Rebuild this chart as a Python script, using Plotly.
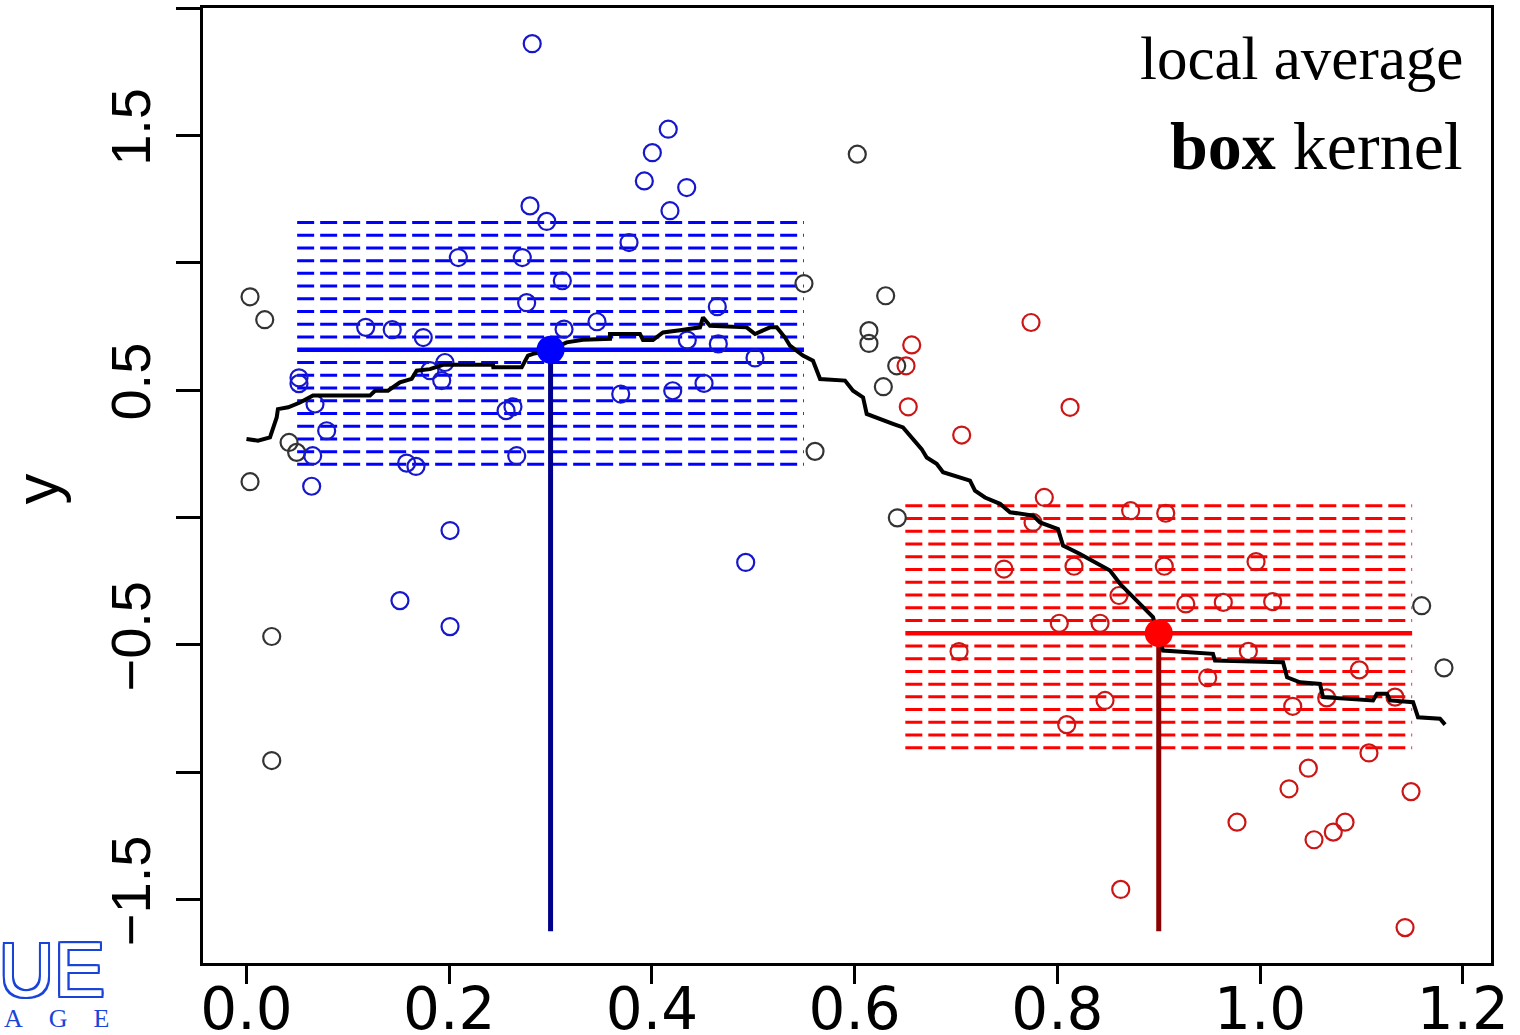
import plotly.graph_objects as go

# ---------------- data ----------------
gray_x = [0.0035, 0.018, 0.0035, 0.042, 0.0495, 0.0249, 0.0249, 0.6026, 0.6306, 0.55,
          0.6141, 0.6141, 0.6415, 0.6283, 0.5609, 0.6421, 1.1594, 1.1814]
gray_y = [0.866, 0.776, 0.140, 0.294, 0.255, -0.468, -0.955, 1.426, 0.870, 0.918,
          0.733, 0.683, 0.595, 0.513, 0.259, -0.002, -0.347, -0.591]

blue_x = [0.2819, 0.2797, 0.2962, 0.209, 0.2721, 0.3116, 0.2764, 0.4161, 0.4004, 0.3925,
          0.4343, 0.4178, 0.3774, 0.1176, 0.1438, 0.1744, 0.0518, 0.0518, 0.0676, 0.0791,
          0.0653, 0.0643, 0.158, 0.1672, 0.1926, 0.1958, 0.181, 0.2561, 0.2629, 0.2666,
          0.2008, 0.1514, 0.2008, 0.3133, 0.3458, 0.3692, 0.4205, 0.4514, 0.4349, 0.4655,
          0.5017, 0.4645, 0.4925]
blue_y = [1.860, 1.223, 1.162, 1.020, 1.020, 0.929, 0.843, 1.524, 1.432, 1.321,
          1.295, 1.204, 1.079, 0.746, 0.737, 0.706, 0.548, 0.525, 0.445, 0.340,
          0.242, 0.122, 0.213, 0.200, 0.537, 0.608, 0.576, 0.419, 0.434, 0.242,
          -0.052, -0.327, -0.429, 0.739, 0.768, 0.484, 0.497, 0.526, 0.696, 0.681,
          0.626, 0.827, -0.177]

red_x = [0.774, 0.8125, 0.6563, 0.6507, 0.6529, 0.7056, 0.7871, 0.776, 0.8723, 0.9069,
         0.7473, 0.8164, 0.9055, 0.996, 0.8608, 0.9267, 0.9637, 1.0124, 0.8019, 0.8421,
         0.703, 0.9884, 0.9483, 1.0979, 0.847, 1.0322, 1.0657, 1.1331, 0.8092, 1.1074,
         1.0476, 1.0285, 1.1489, 0.9772, 1.0838, 1.0722, 1.0532, 0.8625, 1.143]
red_y = [0.765, 0.432, 0.677, 0.595, 0.434, 0.323, 0.078, -0.020, 0.026, 0.016,
         -0.203, -0.192, -0.192, -0.174, -0.307, -0.340, -0.334, -0.331, -0.416, -0.416,
         -0.527, -0.526, -0.630, -0.599, -0.719, -0.742, -0.709, -0.706, -0.814, -0.925,
         -0.985, -1.066, -1.077, -1.197, -1.197, -1.236, -1.266, -1.461, -1.611]

# local average (box kernel) curve
curve_x = [0.0, 0.0113, 0.0232, 0.0298, 0.031, 0.0412, 0.0528, 0.0656, 0.1218, 0.1268,
           0.1396, 0.1514, 0.163, 0.1679, 0.181, 0.1939, 0.2432, 0.2435, 0.2715, 0.2777,
           0.2827, 0.2975, 0.3159, 0.332, 0.3586, 0.3586, 0.3882, 0.3912, 0.401, 0.4109,
           0.4277, 0.4474, 0.4504, 0.4573, 0.4935, 0.5017, 0.5165, 0.5231, 0.5313, 0.5362,
           0.549, 0.5589, 0.5659, 0.5905, 0.5984, 0.6083, 0.6119, 0.628, 0.6378, 0.6477,
           0.6563, 0.6661, 0.6711, 0.6809, 0.6872, 0.699, 0.7138, 0.7187, 0.7286, 0.7434,
           0.7533, 0.776, 0.7829, 0.8006, 0.8056, 0.8223, 0.8391, 0.8519, 0.8618, 0.8785,
           0.8943, 0.9042, 0.9535, 0.9555, 1.0226, 1.0266, 1.0394, 1.0591, 1.0621, 1.1114,
           1.1153, 1.1252, 1.1282, 1.1509, 1.1558, 1.1775, 1.1825]
curve_y = [0.308, 0.301, 0.314, 0.392, 0.425, 0.432, 0.451, 0.478, 0.478, 0.497,
           0.497, 0.530, 0.544, 0.576, 0.582, 0.599, 0.599, 0.589, 0.589, 0.635,
           0.642, 0.654, 0.687, 0.697, 0.701, 0.720, 0.720, 0.696, 0.696, 0.726,
           0.735, 0.746, 0.785, 0.752, 0.746, 0.720, 0.746, 0.746, 0.706, 0.674,
           0.635, 0.615, 0.543, 0.537, 0.497, 0.471, 0.406, 0.380, 0.367, 0.353,
           0.314, 0.268, 0.235, 0.210, 0.177, 0.164, 0.144, 0.105, 0.078, 0.053,
           0.020, 0.007, -0.020, -0.046, -0.111, -0.144, -0.183, -0.209, -0.261, -0.327,
           -0.392, -0.523, -0.536, -0.562, -0.569, -0.628, -0.648, -0.654, -0.706, -0.719,
           -0.693, -0.693, -0.719, -0.726, -0.785, -0.791, -0.814]

# the two query points and their local averages
blue_x0, blue_mean = 0.3, 0.658
red_x0, red_mean = 0.9, -0.455
blue_window = [0.05, 0.55]
red_window = [0.65, 1.15]
stem_bottom = -1.625

blue_levels = [1.158, 1.108, 1.058, 1.008, 0.958, 0.908, 0.858, 0.808, 0.758, 0.708,
               0.608, 0.558, 0.508, 0.458, 0.408, 0.358, 0.308, 0.258, 0.208]
red_levels = [0.045, -0.005, -0.055, -0.105, -0.155, -0.205, -0.255, -0.305, -0.355, -0.405,
              -0.505, -0.555, -0.605, -0.655, -0.705, -0.755, -0.805, -0.855, -0.905]

x_ticks = [0.0, 0.2, 0.4, 0.6, 0.8, 1.0, 1.2]
x_ticktext = ["0.0", "0.2", "0.4", "0.6", "0.8", "1.0", "1.2"]
y_ticks = [-1.5, -1.0, -0.5, 0.0, 0.5, 1.0, 1.5, 2.0]
y_ticktext = ["\u22121.5", "", "\u22120.5", "", "0.5", "", "1.5", ""]

BLUE = "#0000FF"
RED = "#FF0000"
DARKBLUE = "#00008B"
DARKRED = "#8B0000"
PT_BLUE = "#1616CC"
PT_RED = "#CC1616"
PT_GRAY = "#333333"
LOGO = "#1a44d8"


def band(levels, window):
    xs, ys = [], []
    for lv in levels:
        xs += [window[0], window[1], None]
        ys += [lv, lv, None]
    return xs, ys


fig = go.Figure()

for levels, window, col in [(blue_levels, blue_window, BLUE), (red_levels, red_window, RED)]:
    bx, by = band(levels, window)
    fig.add_trace(go.Scatter(x=bx, y=by, mode="lines",
                             line=dict(color=col, width=3, dash="17px,6px")))

for mean, window, col in [(blue_mean, blue_window, BLUE), (red_mean, red_window, RED)]:
    fig.add_trace(go.Scatter(x=window, y=[mean, mean], mode="lines",
                             line=dict(color=col, width=4.5)))

for x0, mean, col in [(blue_x0, blue_mean, DARKBLUE), (red_x0, red_mean, DARKRED)]:
    fig.add_trace(go.Scatter(x=[x0, x0], y=[mean, stem_bottom], mode="lines",
                             line=dict(color=col, width=5)))

for xs, ys, col in [(gray_x, gray_y, PT_GRAY), (blue_x, blue_y, PT_BLUE), (red_x, red_y, PT_RED)]:
    fig.add_trace(go.Scatter(x=xs, y=ys, mode="markers",
                             marker=dict(symbol="circle-open", size=17, color=col,
                                         line=dict(width=2.2, color=col))))

fig.add_trace(go.Scatter(x=curve_x, y=curve_y, mode="lines",
                         line=dict(color="black", width=4, shape="linear")))

fig.add_trace(go.Scatter(x=[blue_x0], y=[blue_mean], mode="markers",
                         marker=dict(size=28, color=BLUE)))
fig.add_trace(go.Scatter(x=[red_x0], y=[red_mean], mode="markers",
                         marker=dict(size=28, color=RED)))

fig.update_layout(
    width=1520, height=1035,
    margin=dict(l=203, r=29, t=8, b=72, autoexpand=False),
    paper_bgcolor="white", plot_bgcolor="white",
    showlegend=False, hovermode=False,
    xaxis=dict(range=[-0.0429, 1.2278], tickvals=x_ticks, ticktext=x_ticktext,
               automargin=False,
               showline=True, mirror=True, linecolor="black", linewidth=3,
               ticks="outside", ticklen=18, tickwidth=3, tickcolor="black",
               showgrid=False, zeroline=False,
               ticklabelstandoff=-25,
               tickfont=dict(family="DejaVu Sans", size=58, color="black")),
    yaxis=dict(range=[-1.75, 2.0], tickvals=y_ticks, ticktext=y_ticktext,
               automargin=False,
               showline=True, mirror=True, linecolor="black", linewidth=3,
               ticks="outside", ticklen=24, tickwidth=3, tickcolor="black",
               showgrid=False, zeroline=False, tickangle=-90,
               ticklabelstandoff=4,
               tickfont=dict(family="Liberation Sans", size=56, color="black")),
)

annotations = [
    dict(text="y", xref="paper", yref="paper", x=-0.130, y=0.4963,
         xanchor="center", yanchor="middle", textangle=-90, showarrow=False,
         font=dict(family="Liberation Sans", size=62, color="black")),
    dict(text="local average", xref="paper", yref="paper", x=0.9798, y=0.9476,
         xanchor="right", yanchor="middle", showarrow=False,
         font=dict(family="Liberation Serif", size=61, color="black")),
    dict(text="<b>box</b> kernel", xref="paper", yref="paper", x=0.9798, y=0.8559,
         xanchor="right", yanchor="middle", showarrow=False,
         font=dict(family="Liberation Serif", size=68, color="black")),
    dict(text="UE", xref="paper", yref="paper", x=-0.1174, y=-0.0063,
         xanchor="center", yanchor="middle", showarrow=False,
         font=dict(family="Liberation Sans", size=76, color="white",
                   shadow=("2px 0 %s, -2px 0 %s, 0 2px %s, 0 -2px %s, 2px 2px %s, "
                           "-2px -2px %s, 2px -2px %s, -2px 2px %s") % ((LOGO,) * 8))),
    dict(text="A&nbsp;&nbsp;&nbsp;&nbsp;G&nbsp;&nbsp;&nbsp;&nbsp;E", xref="paper", yref="paper",
         x=-0.1134, y=-0.0576, xanchor="center", yanchor="middle", showarrow=False,
         font=dict(family="Liberation Serif", size=26, color=LOGO)),
]
fig.update_layout(annotations=annotations)

fig.write_html("out.html")
